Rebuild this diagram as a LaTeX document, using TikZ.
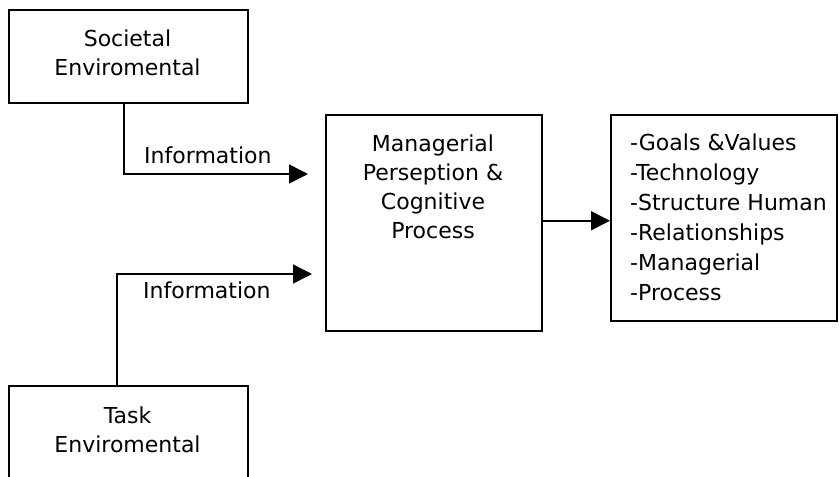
\documentclass[tikz,border=0pt]{standalone}
\usepackage{fontspec}
\setmainfont{DejaVu Sans}
\usetikzlibrary{arrows.meta}
\begin{document}
\begin{tikzpicture}[x=1pt,y=-1pt,
  boxst/.style={draw=black,line width=1.5pt,rectangle,inner sep=0pt,anchor=north west},
  txt/.style={font=\fontsize{22}{29}\selectfont,inner sep=0pt,align=center,anchor=base},
  ltxt/.style={font=\fontsize{22}{30}\selectfont,inner sep=0pt,align=left,anchor=base west},
  arr/.style={line width=1.5pt,-{Triangle[length=19pt,width=19pt]}}]
\useasboundingbox[fill=white] (0,0) rectangle (839,477);
% boxes
\node[boxst,minimum width=239pt,minimum height=93pt] (soc) at (8,9) {};
\node[boxst,minimum width=216pt,minimum height=216pt] (mgr) at (325,114) {};
\node[boxst,minimum width=226pt,minimum height=206pt] (lst) at (610,114) {};
\node[boxst,minimum width=239pt,minimum height=140pt] (task) at (8,385) {};
% texts (anchored at the baseline of the last line)
\node[txt] (soct) at (127.5,75) {Societal\\Enviromental};
\node[txt] (mgrt) at (433,238) {Managerial\\Perseption \&\\Cognitive\\Process};
\node[ltxt] (lstt) at (630,300) {-Goals \&Values\\-Technology\\-Structure Human\\-Relationships\\-Managerial\\-Process};
\node[txt] (taskt) at (127.5,452) {Task\\Enviromental};
\node[ltxt] (inf1) at (144,163) {Information};
\node[ltxt] (inf2) at (143,298) {Information};
% connectors
\coordinate (e1) at ([xshift=-17pt,yshift=-60pt]mgr.north west);
\coordinate (e2) at ([xshift=-13pt,yshift=-160pt]mgr.north west);
\draw[arr] ([xshift=116pt]soc.south west) |- (e1);
\draw[arr] ([xshift=109pt]task.north west) |- (e2);
\draw[arr] ([yshift=2pt]mgr.east) -- ([yshift=2pt]mgr.east -| lst.west);
\end{tikzpicture}
\end{document}
